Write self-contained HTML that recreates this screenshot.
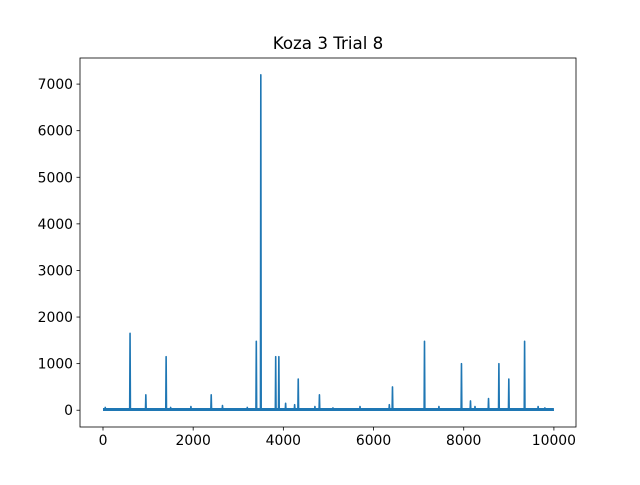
<!DOCTYPE html>
<html><head><meta charset="utf-8"><style>
body{margin:0;background:#fff;}
svg text{font-family:"DejaVu Sans","Liberation Sans",sans-serif;fill:#000;}
</style></head><body>
<svg id="chart" width="640" height="480">
<rect width="640" height="480" fill="#fff"/>
<text x="328" y="49" font-size="16.7" text-anchor="middle">Koza 3 Trial 8</text>
<g id="plot"></g>
</svg>
<script>
const spikeX=[50,600,950,1400,1500,1950,2400,2650,3200,3400,3500,3830,3900,4050,4250,4330,4700,4800,5100,5700,6350,6420,7130,7450,7950,8150,8250,8550,8780,9000,9350,9650,9800];
const spikeY=[60,1650,330,1150,60,80,330,100,60,1480,7200,1150,1150,150,120,670,80,330,50,80,120,500,1480,80,1000,200,80,250,1000,670,1480,80,50];
const xTicks=[0,2000,4000,6000,8000,10000];
const yTicks=[0,1000,2000,3000,4000,5000,6000,7000];
const L=80,R=576,T=58,B=427,xmin=-510,xmax=10490,ymin=-360,ymax=7560;
const sx=v=>L+(v-xmin)/(xmax-xmin)*(R-L);
const sy=v=>B-(v-ymin)/(ymax-ymin)*(B-T);
const ns="http://www.w3.org/2000/svg";
const g=document.getElementById('plot');
function mk(t,a){const e=document.createElementNS(ns,t);for(const k in a)e.setAttribute(k,a[k]);g.appendChild(e);return e;}
const band=mk('line',{x1:sx(0),x2:sx(10000),y1:sy(15),y2:sy(15),stroke:'#1f77b4','stroke-width':3});


let pts=[[0,0]];
spikeX.forEach((x,i)=>{pts.push([x-8,0],[x,spikeY[i]],[x+8,0]);});
pts.push([10000,0]);
const p=mk('polyline',{points:pts.map(q=>sx(q[0])+','+sy(q[1])).join(' '),fill:'none',stroke:'#1f77b4','stroke-width':1.6,'stroke-linejoin':'round'});


const fr=mk('rect',{x:L,y:T,width:R-L,height:B-T,fill:'none',stroke:'#000','stroke-width':0.8});


xTicks.forEach(v=>{
 const tk=mk('line',{x1:sx(v),x2:sx(v),y1:B,y2:B+3.5,stroke:'#000','stroke-width':0.8});
 
 
 const t=mk('text',{x:sx(v),y:B+18,'font-size':13.9,'text-anchor':'middle'});t.textContent=v;
 
 
});
yTicks.forEach(v=>{
 const tk=mk('line',{x1:L-3.5,x2:L,y1:sy(v),y2:sy(v),stroke:'#000','stroke-width':0.8});
 
 
 const t=mk('text',{x:L-7,y:sy(v)+5,'font-size':13.9,'text-anchor':'end'});t.textContent=v;
 
 
});
</script>
</body></html>
